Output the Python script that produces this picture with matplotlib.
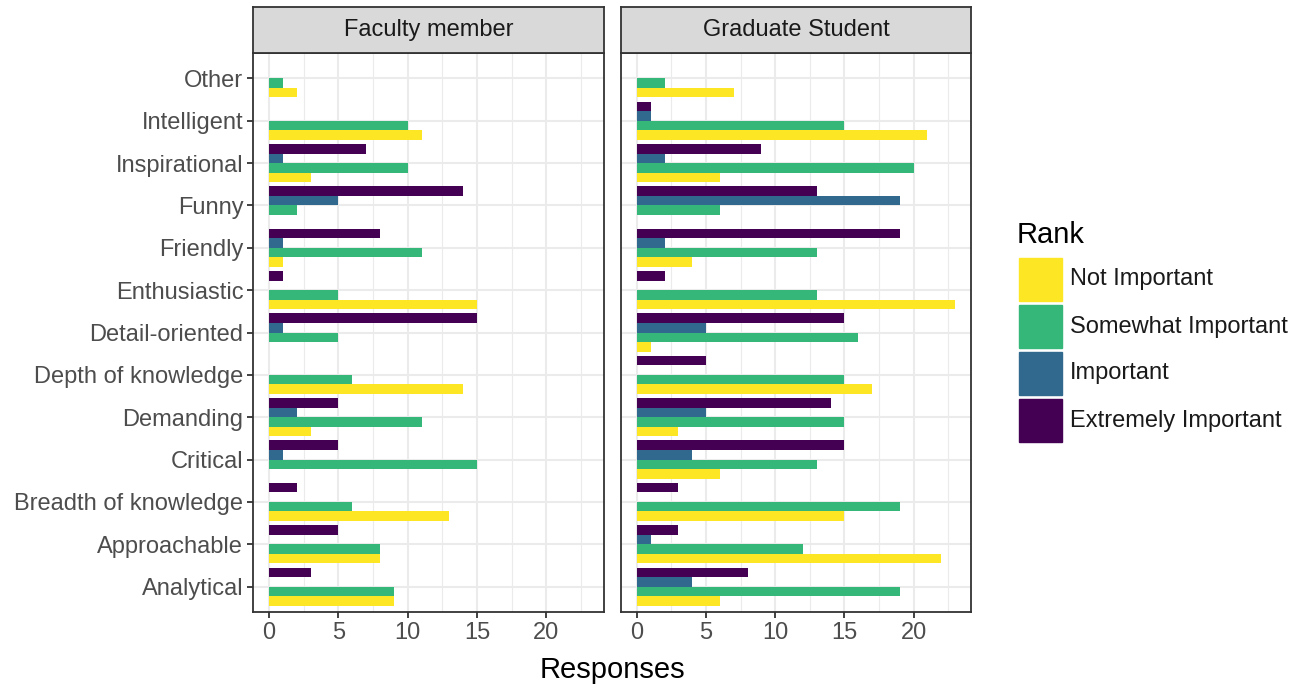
import numpy as np
import matplotlib
matplotlib.use("Agg")
import matplotlib.pyplot as plt
from matplotlib.patches import Rectangle

plt.rcParams['font.family'] = ['Liberation Sans', 'DejaVu Sans']

# categories from bottom to top
traits = ["Analytical", "Approachable", "Breadth of knowledge", "Critical",
          "Demanding", "Depth of knowledge", "Detail-oriented", "Enthusiastic",
          "Friendly", "Funny", "Inspirational", "Intelligent", "Other"]
ranks = ["Not Important", "Somewhat Important", "Important", "Extremely Important"]
rank_colors = ["#FDE725", "#35B779", "#31688E", "#440154"]
panels = ["Faculty member", "Graduate Student"]

# counts per trait (same order as traits)
fac_not = [9, 8, 13, 0, 3, 14, 0, 15, 1, 0, 3, 11, 2]
fac_some = [9, 8, 6, 15, 11, 6, 5, 5, 11, 2, 10, 10, 1]
fac_imp = [0, 0, 0, 1, 2, 0, 1, 0, 1, 5, 1, 0, 0]
fac_ext = [3, 5, 2, 5, 5, 0, 15, 1, 8, 14, 7, 0, 0]

grad_not = [6, 22, 15, 6, 3, 17, 1, 23, 4, 0, 6, 21, 7]
grad_some = [19, 12, 19, 13, 15, 15, 16, 13, 13, 6, 20, 15, 2]
grad_imp = [4, 1, 0, 4, 5, 0, 5, 0, 2, 19, 2, 1, 0]
grad_ext = [8, 3, 3, 15, 14, 5, 15, 2, 19, 13, 9, 1, 0]

data = {
    "Faculty member": [fac_not, fac_some, fac_imp, fac_ext],
    "Graduate Student": [grad_not, grad_some, grad_imp, grad_ext],
}

W, H = 1300, 686
fig = plt.figure(figsize=(13, 6.86), dpi=100)

def fx(px):
    return px / W

def fy(py):
    return 1 - py / H

panel_x = [(253, 604), (621, 971)]
top, bottom = 53, 612
strip_top = 7

y = np.arange(1, len(traits) + 1)
bw = 0.9 / 4
offsets = [-1.5 * bw, -0.5 * bw, 0.5 * bw, 1.5 * bw]

grid_col = "#EBEBEB"
for k, name in enumerate(panels):
    x0, x1 = panel_x[k]
    ax = fig.add_axes([fx(x0), fy(bottom), fx(x1 - x0), (bottom - top) / H])
    for r in range(4):
        ax.barh(y + offsets[r], data[name][r], height=bw, color=rank_colors[r],
                zorder=3, linewidth=0)
    ax.set_xlim(-1.15, 24.15)
    ax.set_ylim(0.4, 13.6)
    ax.set_xticks([0, 5, 10, 15, 20])
    ax.set_xticks([2.5, 7.5, 12.5, 17.5, 22.5], minor=True)
    ax.set_yticks(y)
    ax.grid(True, which='major', color=grid_col, linewidth=1.5, zorder=0)
    ax.grid(True, which='minor', axis='x', color=grid_col, linewidth=0.8, zorder=0)
    ax.tick_params(axis='x', which='minor', length=0)
    ax.tick_params(axis='both', which='major', length=4, width=1.3, color="#333333",
                   labelsize=17, labelcolor="#4D4D4D", pad=3)
    if k == 0:
        ax.set_yticklabels(traits)
    else:
        ax.tick_params(axis='y', length=0, labelleft=False)
    for s in ax.spines.values():
        s.set_color("#333333")
        s.set_linewidth(1.3)
    ax.set_axisbelow(True)

    # facet strip
    sx = fig.add_axes([fx(x0), fy(top), fx(x1 - x0), (top - strip_top) / H])
    sx.set_facecolor("#D9D9D9")
    sx.set_xticks([])
    sx.set_yticks([])
    for s in sx.spines.values():
        s.set_color("#333333")
        s.set_linewidth(1.3)
    sx.text(0.5, 0.5, name, ha='center', va='center', fontsize=17,
            color="#1A1A1A", transform=sx.transAxes)

fig.text(fx(612), fy(670), "Responses", ha='center', va='center', fontsize=21)

# legend
fig.text(fx(1017), fy(235), "Rank", ha='left', va='center', fontsize=21)
key_tops = [258, 305, 352, 399]
for r in range(4):
    t = key_tops[r]
    fig.patches.append(Rectangle((fx(1019), fy(t + 43)), fx(43), 43 / H,
                                 transform=fig.transFigure, color=rank_colors[r]))
    fig.text(fx(1070), fy(t + 21.5), ranks[r], ha='left', va='center',
             fontsize=17, color="#1A1A1A")

fig.savefig("out.png", dpi=100)
